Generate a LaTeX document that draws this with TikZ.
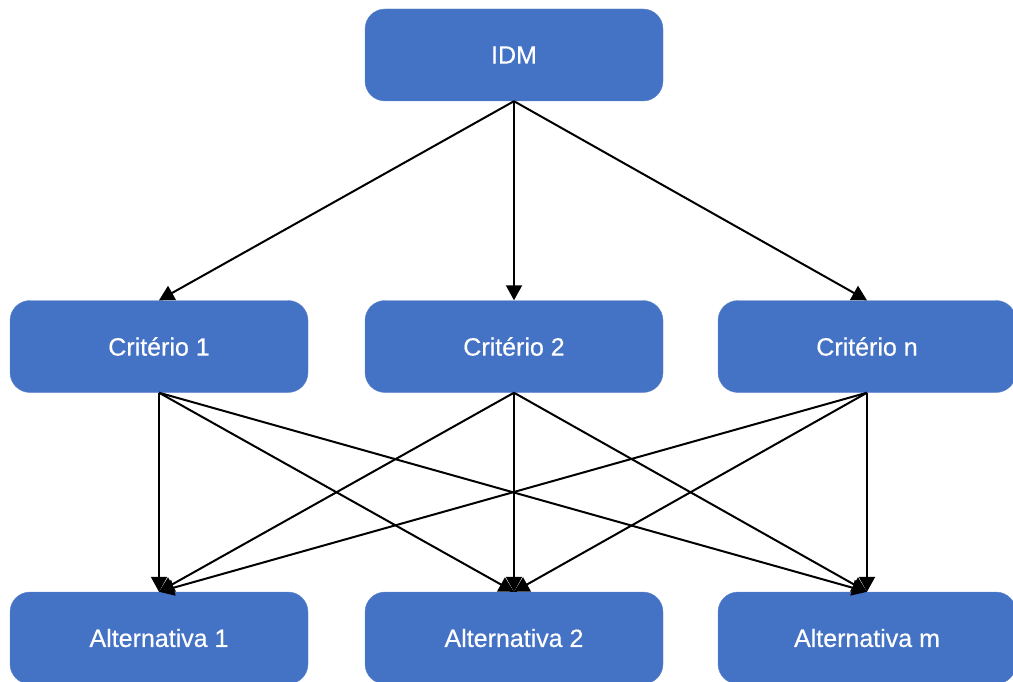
\documentclass[tikz,border=0pt]{standalone}
\usepackage{fontspec}
\setmainfont{Liberation Sans}[FakeBold=0.5]
\usetikzlibrary{arrows.meta}
\definecolor{boxblue}{HTML}{4472C4}
\tikzset{
  box/.style={fill=boxblue, draw=boxblue!85!white, rounded corners=20pt,
    minimum width=298pt, minimum height=92pt, text=white, inner sep=0pt,
    font=\fontsize{25}{30}\selectfont},
  conn/.style={line width=2pt, draw=black,
    -{Triangle[length=15pt,width=16pt]}}
}
\begin{document}
\begin{tikzpicture}[x=1pt,y=-1pt]
\useasboundingbox (0,0) rectangle (1013,682);
\node[box] (idm) at (514,55) {IDM};
\node[box] (c1) at (159,346.5) {Critério 1};
\node[box] (c2) at (514,346.5) {Critério 2};
\node[box] (cn) at (867,346.5) {Critério n};
\node[box] (a1) at (159,638) {Alternativa 1};
\node[box] (a2) at (514,638) {Alternativa 2};
\node[box] (am) at (867,638) {Alternativa m};
\foreach \c in {c1,c2,cn}{
  \draw[conn] (idm.south) -- (\c.north);
}
\foreach \c in {c1,c2,cn}{
  \foreach \a in {a1,a2,am}{
    \draw[conn] (\c.south) -- (\a.north);
  }
}
\end{tikzpicture}
\end{document}
